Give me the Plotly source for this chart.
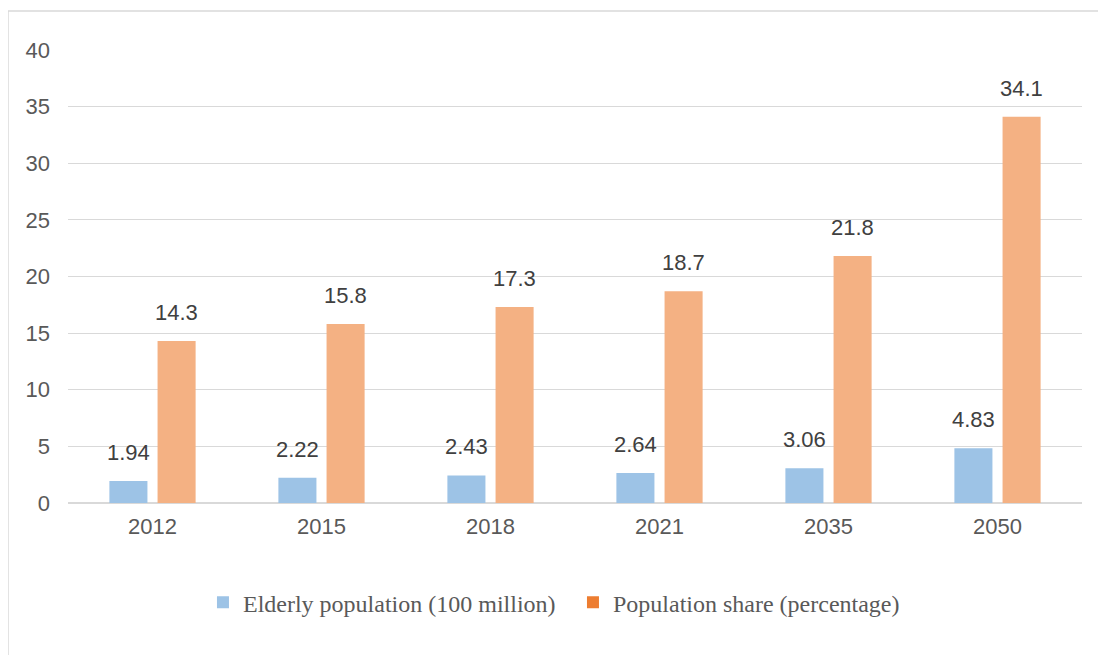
import plotly.graph_objects as go

years = ["2012", "2015", "2018", "2021", "2035", "2050"]
elderly = [1.94, 2.22, 2.43, 2.64, 3.06, 4.83]
share = [14.3, 15.8, 17.3, 18.7, 21.8, 34.1]
name_elderly = "Elderly population (100 million)"
name_share = "Population share (percentage)"

bar_blue = "#9DC3E6"
bar_orange = "#F4B183"
legend_orange = "#ED7D31"

fig = go.Figure()
fig.add_trace(go.Bar(x=years, y=elderly, marker_color=bar_blue, showlegend=False, offsetgroup="a",
                     marker_line_width=0))
fig.add_trace(go.Bar(x=years, y=share, marker_color=bar_orange, showlegend=False, offsetgroup="b",
                     marker_line_width=0))
# legend-only entries (legend swatches use different colours in the reference)
fig.add_trace(go.Bar(x=years, y=[0] * len(years), name=name_elderly, marker_color=bar_blue,
                     offsetgroup="a", marker_line_width=0, hoverinfo="skip"))
fig.add_trace(go.Bar(x=years, y=[0] * len(years), name=name_share, marker_color=legend_orange,
                     offsetgroup="b", marker_line_width=0, hoverinfo="skip"))

label_font = dict(family="Liberation Sans, Arial", size=22, color="#404040")
for i, yr in enumerate(years):
    fig.add_annotation(x=i, y=elderly[i], text=f"{elderly[i]:.2f}", xref="x", yref="y",
                       xshift=-24, yshift=14, yanchor="bottom", showarrow=False, font=label_font)
    fig.add_annotation(x=i, y=share[i], text=f"{share[i]:.1f}", xref="x", yref="y",
                       xshift=24, yshift=14, yanchor="bottom", showarrow=False, font=label_font)

# outer frame
fig.add_shape(type="rect", xref="paper", yref="paper", x0=-0.0592, y0=-0.5, x1=1.1, y1=1.086,
              line=dict(color="#D9D9D9", width=1.5), fillcolor="rgba(0,0,0,0)", layer="below")

fig.update_layout(
    width=1098, height=647,
    margin=dict(l=60, r=24, t=42, b=152),
    paper_bgcolor="white", plot_bgcolor="white",
    barmode="group", bargap=0.43, bargroupgap=0.21,
    showlegend=True,
    legend=dict(orientation="h", x=0.498, xanchor="center", y=-0.22, yanchor="middle",
                entrywidth=325, entrywidthmode="pixels",
                font=dict(family="Liberation Serif, Times New Roman", size=24, color="#595959"),
                itemclick=False, traceorder="normal"),
    xaxis=dict(type="category", categoryorder="array", categoryarray=years, range=[-0.5, 5.5],
               showgrid=False, ticks="", ticklabelstandoff=8,
               tickfont=dict(family="Liberation Sans, Arial", size=22, color="#595959"),
               showline=False, zeroline=False),
    yaxis=dict(range=[0, 40], dtick=5, showgrid=True, gridcolor="#D9D9D9", gridwidth=1.3,
               zeroline=True, zerolinecolor="#D9D9D9", zerolinewidth=1.5,
               tickfont=dict(family="Liberation Sans, Arial", size=22, color="#595959"),
               ticklabelstandoff=17, showline=False),
)

fig.write_html("out.html")
